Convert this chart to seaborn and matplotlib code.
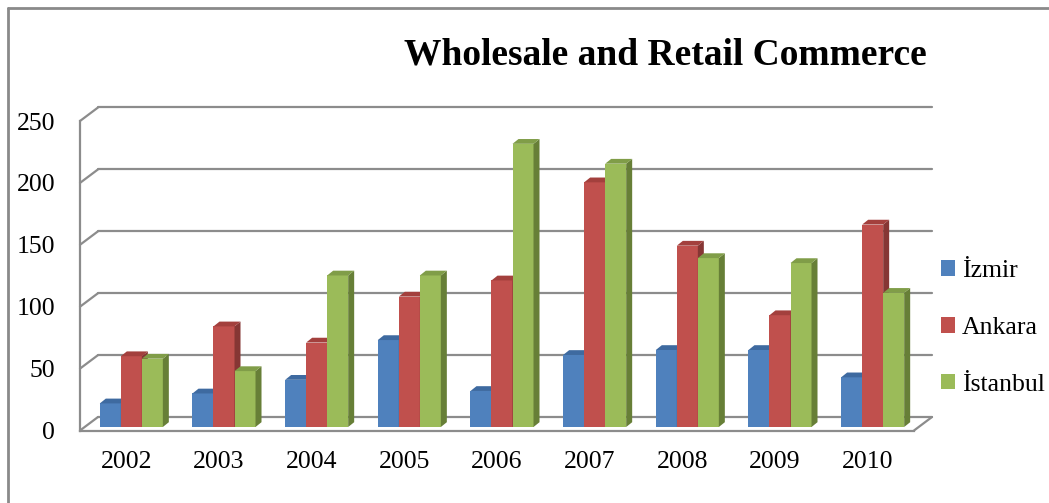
import matplotlib
matplotlib.use("Agg")
import matplotlib.pyplot as plt
from matplotlib.patches import Polygon
from matplotlib.lines import Line2D
import numpy as np
import pandas as pd
import seaborn as sns

# ---- data ----
years = ["2002", "2003", "2004", "2005", "2006", "2007", "2008", "2009", "2010"]
cities = ["İzmir", "Ankara", "İstanbul"]
izmir = [19, 27, 38, 70, 29, 58, 62, 62, 40]
ankara = [57, 81, 68, 105, 118, 197, 146, 90, 163]
istanbul = [55, 45, 122, 122, 228, 212, 136, 132, 108]
y_ticks = [0, 50, 100, 150, 200, 250]

df = pd.DataFrame({"year": years, "İzmir": izmir, "Ankara": ankara, "İstanbul": istanbul})
long = df.melt(id_vars="year", var_name="city", value_name="value")

front_cols = ["#4F81BD", "#C0504D", "#9BBB59"]
top_cols = ["#3E6AA0", "#A3403D", "#809D48"]
side_cols = ["#375C8A", "#863634", "#677F37"]
grid_col = "#8c8c8c"

sns.set_style("white")
plt.rcParams["font.family"] = ["Liberation Serif", "DejaVu Serif"]
plt.rcParams["text.color"] = "black"
plt.rcParams["xtick.labelcolor"] = "black"
plt.rcParams["ytick.labelcolor"] = "black"

W, H = 1049, 503
fig = plt.figure(figsize=(W / 100, H / 100), dpi=100)

# front plane of the plot area (pixel geometry)
px_left, px_right, px_zero, px_top = 80, 914, 430.5, 121
ax = fig.add_axes([px_left / W, (H - px_zero) / H, (px_right - px_left) / W, (px_zero - px_top) / H])
ax.set_xlim(-0.5, 8.5)
ax.set_ylim(0, 250)
ax.patch.set_alpha(0)

px_per_cat = (px_right - px_left) / 9
px_per_val = (px_zero - px_top) / 250
# depth of the back wall
ddx = 18 / px_per_cat
ddy = 13.5 / px_per_val

for v in y_ticks:
    ax.plot([-0.5 + ddx, 8.5 + ddx], [v + ddy, v + ddy], color=grid_col, lw=1.6, clip_on=False, zorder=0.5)
    ax.plot([-0.5, -0.5 + ddx], [v, v + ddy], color=grid_col, lw=1.6, clip_on=False, zorder=0.5)
# floor right edge
ax.plot([8.5, 8.5 + ddx], [0, ddy], color=grid_col, lw=1.6, clip_on=False, zorder=0.5)

for s in ["top", "right"]:
    ax.spines[s].set_visible(False)
for s in ["left", "bottom"]:
    ax.spines[s].set_color(grid_col)
    ax.spines[s].set_linewidth(1.6)

ax.set_yticks(y_ticks)
ax.set_yticklabels([str(t) for t in y_ticks], fontsize=18.5)
ax.tick_params(axis="y", direction="out", length=6, width=1.5, color=grid_col, pad=12)
ax.set_xticks(range(len(years)))
ax.set_xticklabels(years, fontsize=18.5)
ax.set_xticks(np.arange(-0.5, 9, 1.0), minor=True)
ax.tick_params(axis="x", which="major", length=0, pad=15)
ax.tick_params(axis="x", which="minor", direction="out", length=5, width=1.5, color=grid_col)

# bars sit slightly behind the front plane
shift_x = 5
bar_zero = 427
bar_px_per_val = 1.242
axb = fig.add_axes([(px_left + shift_x) / W, (H - bar_zero) / H,
                    (px_right - px_left) / W, 250 * bar_px_per_val / H])
sns.barplot(data=long, x="year", y="value", hue="city", hue_order=cities,
            palette=front_cols, saturation=1, width=0.68, ax=axb, linewidth=0)
axb.set_xlim(-0.5, 8.5)
axb.set_ylim(0, 250)
axb.axis("off")
axb.patch.set_alpha(0)

bdx = 6 / px_per_cat
bdy = 4.8 / bar_px_per_val
for k, cont in enumerate(axb.containers):
    z = 2 + 0.1 * k
    for p in cont.patches:
        p.set_zorder(z)
        x0, w, h = p.get_x(), p.get_width(), p.get_height()
        x1 = x0 + w
        side = Polygon([(x1, 0), (x1 + bdx, bdy), (x1 + bdx, h + bdy), (x1, h)],
                       closed=True, facecolor=side_cols[k], edgecolor="none", zorder=z)
        top = Polygon([(x0, h), (x0 + bdx, h + bdy), (x1 + bdx, h + bdy), (x1, h)],
                      closed=True, facecolor=top_cols[k], edgecolor="none", zorder=z)
        axb.add_patch(side)
        axb.add_patch(top)
        side.set_clip_on(False)
        top.set_clip_on(False)

sns.move_legend(axb, loc="center left", bbox_to_anchor=(941 / W, (H - 328) / H),
                bbox_transform=fig.transFigure, title=None, frameon=False,
                fontsize=18.5, handlelength=0.55, handleheight=0.55,
                handletextpad=0.25, labelspacing=1.35, borderpad=0, borderaxespad=0,
                labelcolor="black")

fig.text(665 / W, 1 - 55 / H, "Wholesale and Retail Commerce", ha="center", va="center",
         fontsize=27, fontweight="bold", color="black")

# chart area border
fig.add_artist(Line2D([7.5 / W, 1], [1 - 7.5 / H, 1 - 7.5 / H], transform=fig.transFigure,
                      color="#8a8a8a", lw=2))
fig.add_artist(Line2D([7.5 / W, 7.5 / W], [0, 1 - 7.5 / H], transform=fig.transFigure,
                      color="#8a8a8a", lw=2))

fig.savefig("out.png", dpi=100, facecolor="white")
